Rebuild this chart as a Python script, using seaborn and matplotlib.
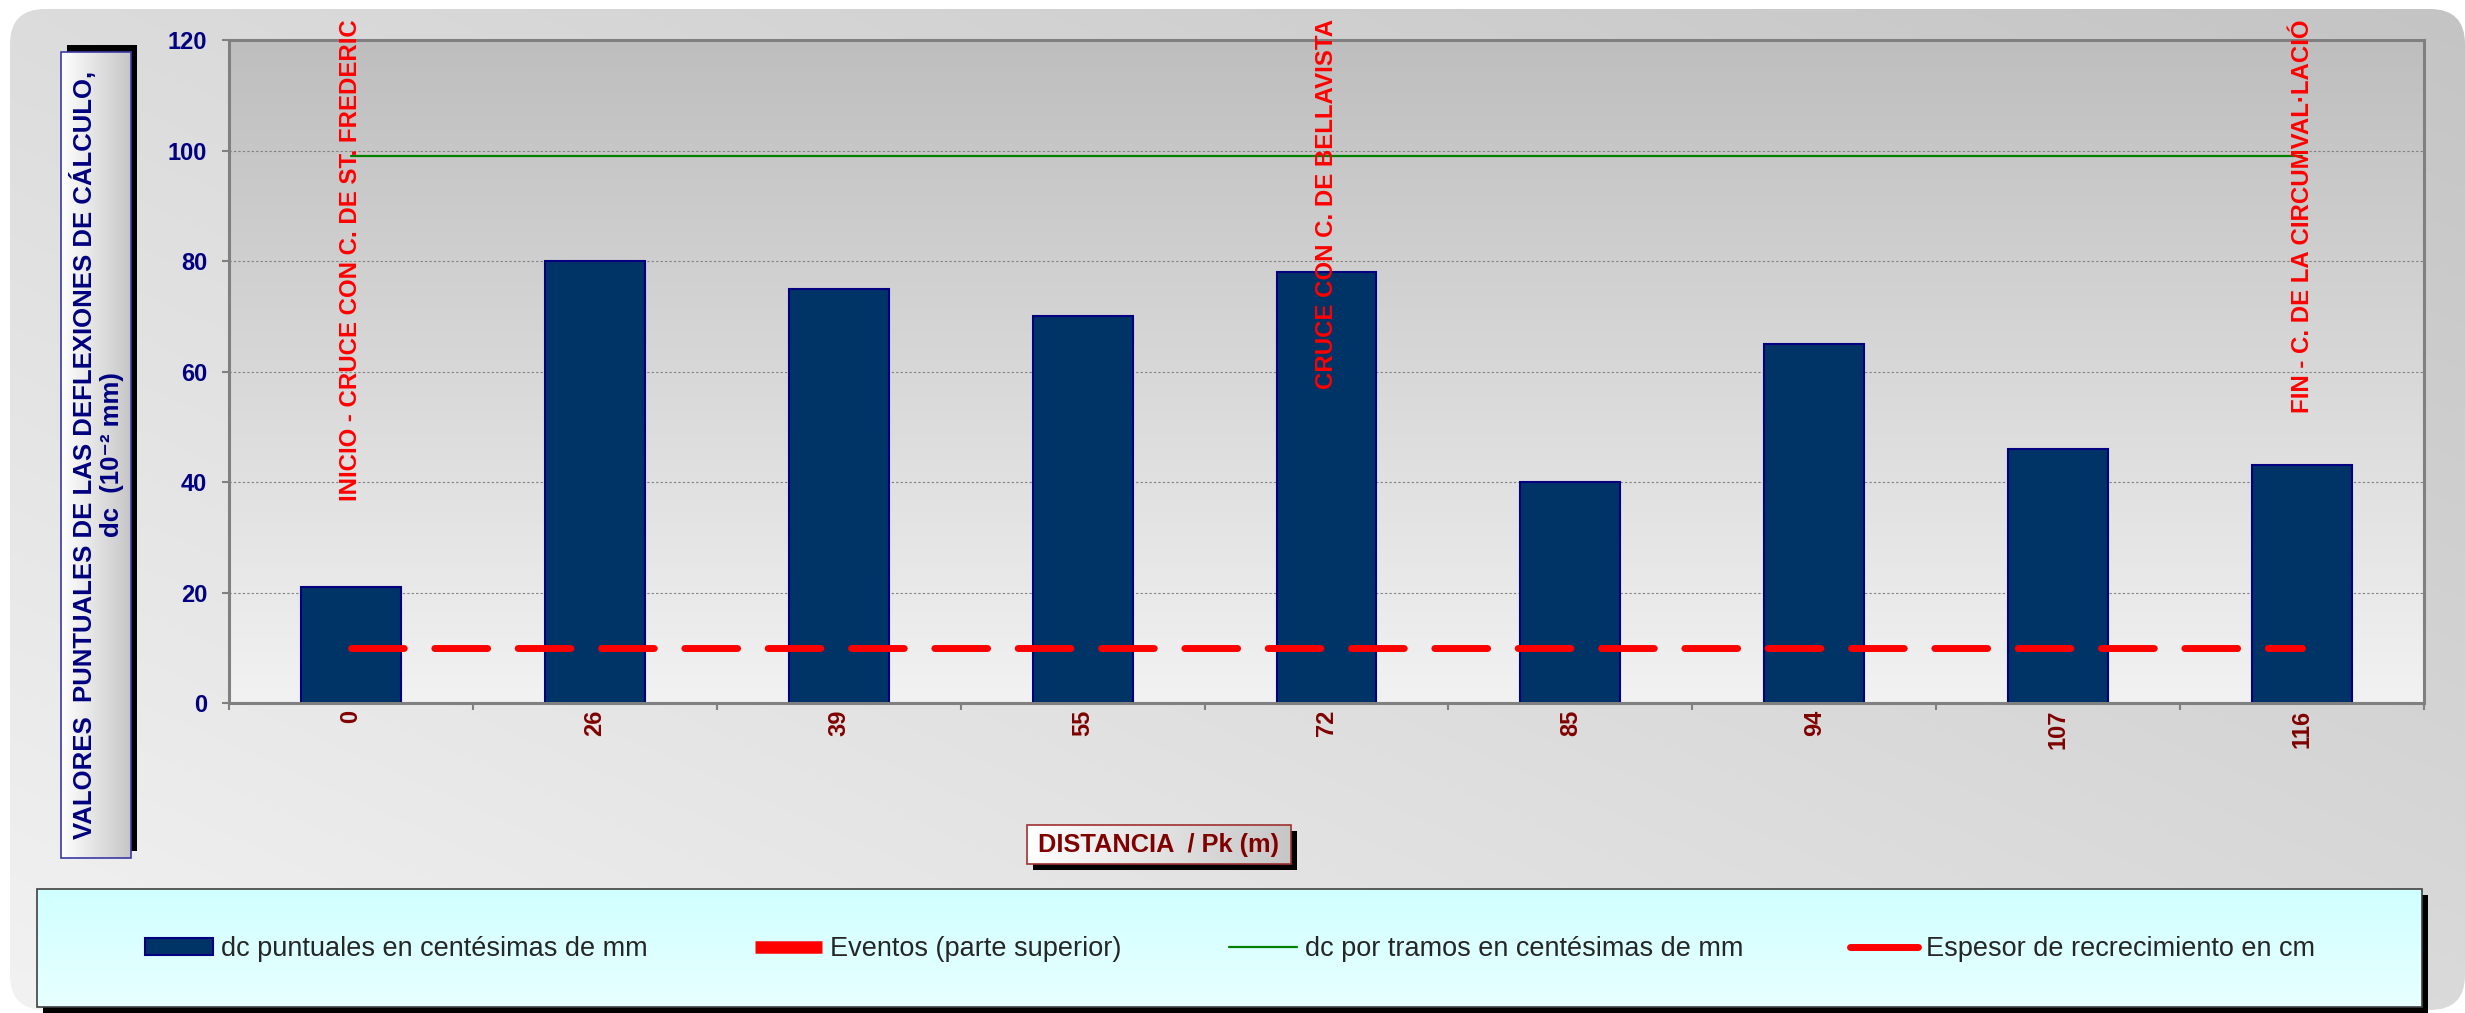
import numpy as np
import pandas as pd
import matplotlib
matplotlib.use("Agg")
import matplotlib.pyplot as plt
from matplotlib.patches import FancyBboxPatch, Rectangle, Patch
from matplotlib.lines import Line2D
from matplotlib.colors import LinearSegmentedColormap
import seaborn as sns

# values
pk = ["0", "26", "39", "55", "72", "85", "94", "107", "116"]
dc_puntual = [21, 80, 75, 70, 78, 40, 65, 46, 43]
dc_tramos = [99, 99, 99, 99, 99, 99, 99, 99, 99]
espesor = [10, 10, 10, 10, 10, 10, 10, 10, 10]
eventos = {"0": "INICIO - CRUCE CON C. DE ST. FREDERIC",
           "72": "CRUCE CON C. DE BELLAVISTA",
           "116": "FIN - C. DE LA CIRCUMVAL·LACIÓ"}

sns.set_style("ticks")
plt.rcParams["font.family"] = ["Liberation Sans", "DejaVu Sans"]

W, H = 2465, 1013
fig = plt.figure(figsize=(W / 100, H / 100), dpi=100)
fig.patch.set_facecolor("white")

# background layer, pixel units (y from bottom)
bg = fig.add_axes([0, 0, 1, 1], zorder=-10)
bg.set_xlim(0, W)
bg.set_ylim(0, H)
bg.axis("off")


def grad_box(x0, y0, x1, y1, c0, c1, horizontal=False, z=3):
    # coords given with y measured from the top of the image
    cmap = LinearSegmentedColormap.from_list("g", [c0, c1])
    g = np.linspace(0, 1, 256)
    img = g[None, :] if horizontal else g[:, None]
    bg.imshow(img, cmap=cmap, extent=[x0, x1, H - y1, H - y0], origin="upper",
              aspect="auto", zorder=z, interpolation="bilinear")


def shadow_box(x0, y0, x1, y1, z=2):
    bg.add_patch(Rectangle((x0, H - y1), x1 - x0, y1 - y0, facecolor="black",
                           edgecolor="none", zorder=z))


def border(x0, y0, x1, y1, col, z=4):
    bg.add_patch(Rectangle((x0, H - y1), x1 - x0, y1 - y0, facecolor="none",
                           edgecolor=col, lw=1.2, zorder=z))


# chart area: rounded with diagonal grey gradient
nx, ny = 300, 120
xn = np.linspace(0, 1, nx)[None, :]
yn = np.linspace(0, 1, ny)[:, None]
v = (220 - 24 * xn + 22 * yn) / 255
rgb = np.dstack([v, v, v])
im = bg.imshow(rgb, extent=[0, W, 0, H], origin="upper", aspect="auto", zorder=0,
               interpolation="bilinear")
rounded = FancyBboxPatch((10, 3), W - 10, H - 12, boxstyle="round,pad=0,rounding_size=35",
                         facecolor="none", edgecolor="none", transform=bg.transData)
bg.add_patch(rounded)
im.set_clip_path(rounded)

# plot area gradient
grad_box(229, 40, 2424, 703, "#bebebe", "#f2f2f2", z=1)

# y label box
shadow_box(67, 45, 137, 851)
grad_box(61, 52, 131, 858, "#ffffff", "#c6c6c6", horizontal=True)
border(61, 52, 131, 858, "#3a3aa8")
bg.text(97, H - 455, "VALORES  PUNTUALES DE LAS DEFLEXIONES DE CÁLCULO,\ndc  (10⁻² mm)",
        rotation=90, ha="center", va="center", multialignment="center",
        fontsize=18.5, fontweight="bold", color="#000080", linespacing=1.2, zorder=5)

# x label box
shadow_box(1033, 831, 1297, 870)
grad_box(1027, 825, 1291, 864, "#ffffff", "#c6c6c6", horizontal=True)
border(1027, 825, 1291, 864, "#a03030")
bg.text(1159, H - 845, "DISTANCIA  / Pk (m)", ha="center", va="center",
        fontsize=18.3, fontweight="bold", color="#800000", zorder=5)

# legend box
shadow_box(43, 895, 2428, 1013)
grad_box(37, 889, 2422, 1007, "#d0ffff", "#e8ffff")
border(37, 889, 2422, 1007, "#404040")

# main plot
ax = fig.add_axes([229 / W, 1 - 703 / H, (2424 - 229) / W, (703 - 40) / H], zorder=1)
ax.set_facecolor("none")

df = pd.DataFrame({"pk": pk, "dc": dc_puntual, "tramos": dc_tramos, "espesor": espesor})
df["pos"] = np.arange(len(df))

sns.barplot(data=df, x="pk", y="dc", color="#003366", edgecolor="#000080", linewidth=1.5,
            width=0.41, saturation=1, errorbar=None, ax=ax)
sns.lineplot(data=df, x="pos", y="tramos", color="#008000", linewidth=1.6, ax=ax)
sns.lineplot(data=df, x="pos", y="espesor", color="red", linewidth=5, ax=ax,
             linestyle=(0, (7.6, 4.4)), dash_capstyle="round")

for p, txt in eventos.items():
    ax.text(pk.index(p), 123.8, txt, rotation=90, ha="center", va="top", color="red",
            fontsize=17.3, fontweight="bold", clip_on=False, zorder=6)

ax.set_xlim(-0.5, len(pk) - 0.5)
ax.set_ylim(0, 120)
ax.set_yticks(range(0, 121, 20))
ax.set_xlabel("")
ax.set_ylabel("")
for s in ax.spines.values():
    s.set_visible(True)
    s.set_color("#808080")
    s.set_linewidth(2.2)
ax.yaxis.grid(True, color="#808080", linestyle=(0, (2, 2)), linewidth=0.8)
ax.set_axisbelow(True)

ax.tick_params(axis="y", length=5, width=1.5, color="#808080", pad=10.8,
               labelsize=17, labelcolor="#000080", direction="out")
ax.tick_params(axis="x", which="major", length=0, pad=5, labelsize=17,
               labelcolor="#800000", labelrotation=90)
ax.set_xticks(np.arange(-0.5, len(pk), 1), minor=True)
ax.tick_params(axis="x", which="minor", length=5, width=1.5, color="#808080", direction="out")
for t in ax.get_xticklabels() + ax.get_yticklabels():
    t.set_fontweight("bold")

handles = [
    Patch(facecolor="#003366", edgecolor="#000080", linewidth=1.5),
    Line2D([], [], color="red", linewidth=9, solid_capstyle="butt"),
    Line2D([], [], color="#008000", linewidth=1.6),
    Line2D([], [], color="red", linewidth=5, solid_capstyle="round"),
]
labels = ["dc puntuales en centésimas de mm", "Eventos (parte superior)",
          "dc por tramos en centésimas de mm", "Espesor de recrecimiento en cm"]
fig.legend(handles, labels, loc="center", bbox_to_anchor=(1230 / W, 1 - 949 / H), ncol=4,
           frameon=False, fontsize=19.5, handlelength=2.5, handleheight=0.6,
           handletextpad=0.3, columnspacing=3.95)

fig.savefig("out.png", dpi=100)
